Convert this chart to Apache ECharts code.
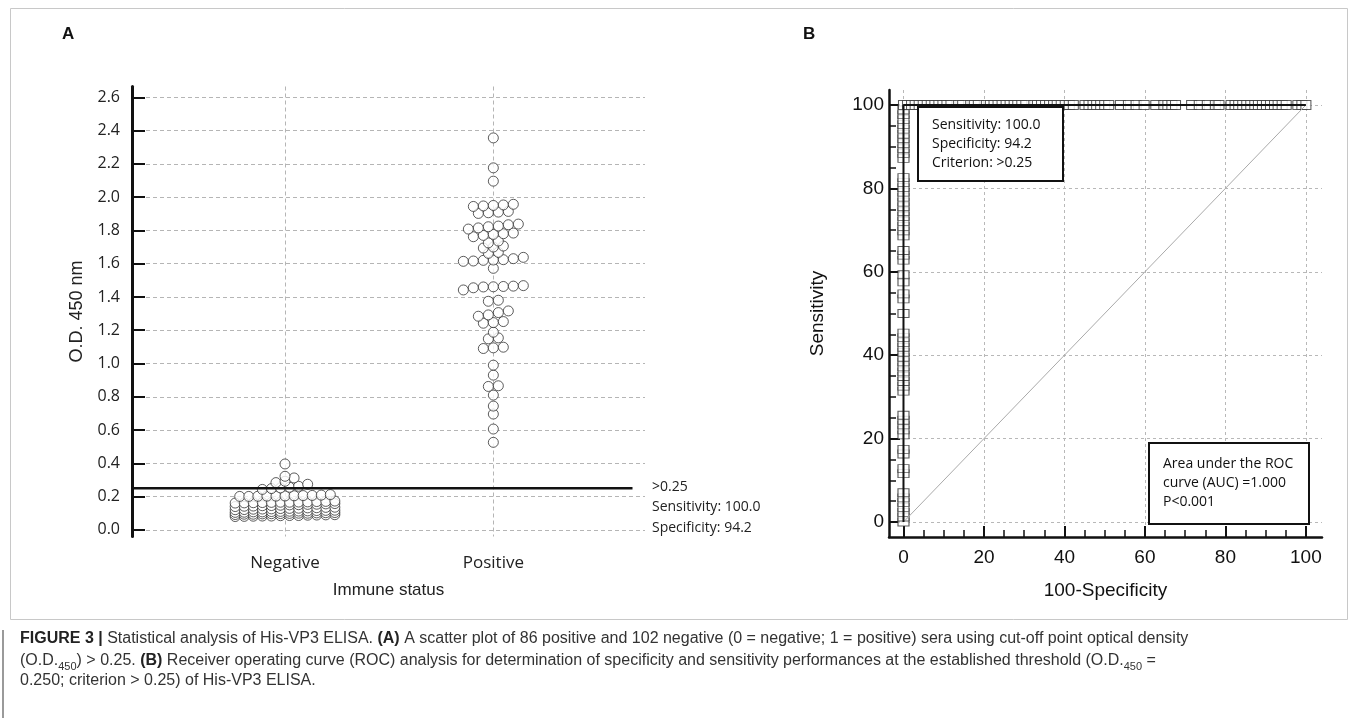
<!DOCTYPE html>
<html>
<head>
<meta charset="utf-8">
<title>Figure 3</title>
<script src="https://cdn.jsdelivr.net/npm/echarts@6/dist/echarts.min.js"></script>
<style>
  html, body { margin: 0; padding: 0; background: #fff; }
  #main { width: 1358px; height: 718px; }
</style>
</head>
<body>
<div id="main"></div>
<script>
// ---- data ----
var groups = ['Negative', 'Positive'];

// O.D.450 of negative sera
var negativeOD = [
  0.080, 0.081, 0.082, 0.083, 0.083, 0.085, 0.086, 0.086, 0.088, 0.089, 0.090, 0.091,
  0.092, 0.094, 0.094, 0.096, 0.097, 0.098, 0.099, 0.100, 0.100, 0.102, 0.103, 0.104,
  0.105, 0.106, 0.108, 0.108, 0.110, 0.111, 0.112, 0.113, 0.114, 0.116, 0.117, 0.118,
  0.121, 0.122, 0.124, 0.125, 0.126, 0.128, 0.129, 0.130, 0.132, 0.133, 0.135, 0.136,
  0.140, 0.142, 0.143, 0.145, 0.146, 0.148, 0.150, 0.151, 0.153, 0.154, 0.156, 0.158,
  0.161, 0.162, 0.163, 0.164, 0.165, 0.166, 0.166, 0.167, 0.168, 0.170, 0.171, 0.173,
  0.201, 0.201, 0.202, 0.203, 0.203, 0.204, 0.205, 0.206, 0.207, 0.209, 0.212,
  0.243, 0.248, 0.252, 0.256, 0.262, 0.274,
  0.284, 0.292, 0.312, 0.322, 0.396
];

// O.D.450 of positive sera
var positiveOD = [
  2.356, 2.176, 2.096,
  1.944, 1.947, 1.950, 1.953, 1.957,
  1.902, 1.906, 1.910, 1.914,
  1.808, 1.815, 1.822, 1.826, 1.834, 1.838,
  1.762, 1.770, 1.776, 1.780, 1.784,
  1.725, 1.736,
  1.694, 1.700, 1.706,
  1.662, 1.668,
  1.614, 1.616, 1.620, 1.622, 1.624, 1.630, 1.638,
  1.572,
  1.442, 1.455, 1.460, 1.461, 1.463, 1.465, 1.468,
  1.374, 1.380,
  1.284, 1.292, 1.306, 1.316,
  1.242, 1.246, 1.252,
  1.188,
  1.148, 1.154,
  1.090, 1.094, 1.098,
  0.990, 0.930, 0.862, 0.866, 0.810, 0.744, 0.696, 0.606, 0.526
];

var cutoff = 0.25;
var odTicks = [0, 0.2, 0.4, 0.6, 0.8, 1.0, 1.2, 1.4, 1.6, 1.8, 2.0, 2.2, 2.4, 2.6];

// ROC criterion points: sensitivity where 100-specificity = 0
var rocSensAtZero = [
  0, 1.2, 2.3, 3.5, 4.7, 5.8, 7.0,
  11.6, 12.8,
  16.3, 17.4,
  20.9, 22.1, 23.3, 24.4, 25.6,
  31.4, 32.6, 33.7, 34.9, 36.0, 37.2, 38.4, 39.5, 40.7, 41.9, 43.0, 44.2, 45.3,
  50.0, 53.5, 54.7, 57.6, 59.3,
  62.8, 64.0, 65.1,
  68.6, 69.8, 70.9, 72.1, 73.3, 74.4, 75.6, 76.7, 77.9, 79.1, 80.2, 81.4, 82.6,
  87.2, 88.4, 89.5, 90.7, 91.9, 93.0, 94.2, 95.3, 96.5, 97.7, 98.8
];
// ROC criterion points: 100-specificity where sensitivity = 100
var rocFprAtFull = [
  0, 1.0, 2.0, 2.9, 3.9, 4.9, 5.9, 6.9, 7.8, 8.8, 9.8, 10.8, 11.8, 13.7, 14.7,
  16.7, 17.6, 18.6, 20.6, 21.6, 22.5, 23.5, 24.5, 25.5, 26.5, 27.5, 28.4, 29.4,
  30.4, 32.4, 33.3, 34.3, 35.3, 36.3, 37.3, 38.2, 39.2, 40.2, 41.2, 42.2,
  45.1, 46.1, 47.1, 48.0, 49.0, 50.0, 51.0,
  53.9, 55.9, 57.8, 59.8, 62.7, 64.7, 65.7, 66.7, 67.6,
  71.6, 73.5, 75.5, 77.5, 78.4,
  81.4, 82.4, 83.3, 84.3, 85.3, 86.3, 87.3, 88.2, 89.2, 90.2, 91.2, 92.2, 93.1, 94.1, 95.1,
  98.0, 99.0, 100
];
var rocTicks = [0, 20, 40, 60, 80, 100];
var rocMinorTicks = [5, 10, 15, 25, 30, 35, 45, 50, 55, 65, 70, 75, 85, 90, 95];
var chanceLine = [0, 100];

// ---- dot plot layout: bin the values, lay each bin out in centred rows ----
function dotPlot(values, center, binW, perRow, step) {
  var bins = {};
  values.forEach(function (v) {
    var k = Math.floor(v / binW + 1e-9);
    (bins[k] = bins[k] || []).push(v);
  });
  var pts = [];
  Object.keys(bins).forEach(function (k) {
    var b = bins[k].slice().sort(function (a, c) { return a - c; });
    for (var s = 0; s < b.length; s += perRow) {
      var row = b.slice(s, s + perRow);
      row.forEach(function (v, i) {
        pts.push([center + (i - (row.length - 1) / 2) * step, v]);
      });
    }
  });
  return pts;
}

var negPts = dotPlot(negativeOD, 0, 0.04, 12, 0.0435);
var posPts = dotPlot(positiveOD, 1, 0.04, 12, 0.048);

var xMinA = -0.7345, xMaxA = 1.728;
var cutLineEnd = 1.668;

var colPts = rocSensAtZero.map(function (s) { return [0, s]; });
var rowPts = rocFprAtFull.map(function (f) { return [f, 100]; });
var rocCurve = colPts.concat(rowPts);

var sans = 'Liberation Sans';
var soft = 'Open Sans';

var myChart = echarts.init(document.getElementById('main'), null, { renderer: 'canvas' });

var circleStyle = { color: '#fff', borderColor: '#333', borderWidth: 1 };
var squareStyle = { color: '#fff', borderColor: '#333', borderWidth: 1 };

var option = {
  backgroundColor: '#fff',
  animation: false,
  grid: [
    { left: 132, top: 86.5, width: 513, height: 450 },
    { left: 889, top: 90, width: 433, height: 447 }
  ],
  xAxis: [
    {
      type: 'value', gridIndex: 0, min: xMinA, max: xMaxA,
      name: 'Immune status', nameLocation: 'middle', nameGap: 45,
      nameTextStyle: { fontFamily: sans, fontSize: 17, color: '#222' },
      axisLine: { show: false, onZero: false },
      axisTick: { show: false, customValues: [0, 1] },
      axisLabel: {
        customValues: [0, 1], margin: 18,
        fontFamily: soft, fontSize: 17, color: '#222',
        formatter: function (v) { return groups[Math.round(v)]; }
      },
      splitLine: { show: true, lineStyle: { color: '#b5b5b5', type: [4, 3], width: 1 } }
    },
    {
      type: 'value', gridIndex: 1, min: -3.6, max: 104,
      name: '100-Specificity', nameLocation: 'middle', nameGap: 44,
      nameTextStyle: { fontFamily: sans, fontSize: 19, color: '#111' },
      axisLine: { show: true, onZero: false, lineStyle: { color: '#111', width: 2.5 } },
      axisTick: { inside: true, length: 11, customValues: rocTicks, lineStyle: { color: '#111', width: 2 } },
      axisLabel: { customValues: rocTicks, margin: 11, fontFamily: sans, fontSize: 19, color: '#111' },
      splitLine: { show: true, lineStyle: { color: '#b8b8b8', type: [3, 3], width: 1 } }
    },
    {
      type: 'value', gridIndex: 1, min: -3.6, max: 104, position: 'bottom',
      axisLine: { show: false, onZero: false },
      axisTick: { inside: true, length: 7, customValues: rocMinorTicks, lineStyle: { color: '#111', width: 1.5 } },
      axisLabel: { show: false },
      splitLine: { show: false }
    }
  ],
  yAxis: [
    {
      type: 'value', gridIndex: 0, min: -0.04, max: 2.665,
      name: 'O.D. 450 nm', nameLocation: 'middle', nameGap: 46,
      nameTextStyle: { fontFamily: sans, fontSize: 18, color: '#222' },
      axisLine: { show: true, onZero: false, lineStyle: { color: '#111', width: 3 } },
      axisTick: { inside: true, length: 13, customValues: odTicks, lineStyle: { color: '#111', width: 2 } },
      axisLabel: {
        customValues: odTicks, margin: 12, fontFamily: soft, fontSize: 16, color: '#222',
        formatter: function (v) { return v.toFixed(1); }
      },
      splitLine: { show: true, lineStyle: { color: '#b5b5b5', type: [4, 3], width: 1 } }
    },
    {
      type: 'value', gridIndex: 1, min: -3.6, max: 103.6,
      name: 'Sensitivity', nameLocation: 'middle', nameGap: 62,
      nameTextStyle: { fontFamily: sans, fontSize: 19, color: '#111' },
      axisLine: { show: true, onZero: false, lineStyle: { color: '#111', width: 2.5 } },
      axisTick: { inside: true, length: 11, customValues: rocTicks, lineStyle: { color: '#111', width: 2 } },
      axisLabel: { customValues: rocTicks, margin: 5, fontFamily: sans, fontSize: 19, color: '#111' },
      splitLine: { show: true, lineStyle: { color: '#b8b8b8', type: [3, 3], width: 1 } }
    },
    {
      type: 'value', gridIndex: 1, min: -3.6, max: 103.6, position: 'left',
      axisLine: { show: false, onZero: false },
      axisTick: { inside: true, length: 7, customValues: rocMinorTicks, lineStyle: { color: '#111', width: 1.5 } },
      axisLabel: { show: false },
      splitLine: { show: false }
    }
  ],
  series: [
    {
      type: 'scatter', xAxisIndex: 0, yAxisIndex: 0, data: negPts,
      symbol: 'circle', symbolSize: 10, itemStyle: circleStyle
    },
    {
      type: 'scatter', xAxisIndex: 0, yAxisIndex: 0, data: posPts,
      symbol: 'circle', symbolSize: 10, itemStyle: circleStyle
    },
    {
      type: 'line', xAxisIndex: 0, yAxisIndex: 0,
      data: [[xMinA, cutoff], [cutLineEnd, cutoff]],
      symbol: 'none', lineStyle: { color: '#111', width: 2.5 }, z: 5
    },
    {
      type: 'line', xAxisIndex: 1, yAxisIndex: 1,
      data: [[chanceLine[0], chanceLine[0]], [chanceLine[1], chanceLine[1]]],
      symbol: 'none', lineStyle: { color: '#aaa', width: 1 }
    },
    {
      type: 'line', xAxisIndex: 1, yAxisIndex: 1, data: rocCurve,
      symbol: 'none', lineStyle: { color: '#111', width: 2 }
    },
    {
      type: 'scatter', xAxisIndex: 1, yAxisIndex: 1, data: colPts,
      symbol: 'rect', symbolSize: [11, 8], itemStyle: squareStyle
    },
    {
      type: 'scatter', xAxisIndex: 1, yAxisIndex: 1, data: rowPts,
      symbol: 'rect', symbolSize: [10, 9], itemStyle: squareStyle
    }
  ],
  graphic: [
    // figure frame and caption bar
    { type: 'rect', silent: true, z: 0, shape: { x: 10.5, y: 8.5, width: 1337, height: 611 },
      style: { fill: 'none', stroke: '#c8c8c8', lineWidth: 1 } },
    { type: 'rect', silent: true, shape: { x: 2, y: 630, width: 2, height: 88 },
      style: { fill: '#9a9a9a' } },
    // panel letters
    { type: 'text', left: 62, top: 26, style: { text: 'A', font: 'bold 17px "Liberation Sans"', fill: '#111' } },
    { type: 'text', left: 803, top: 26, style: { text: 'B', font: 'bold 17px "Liberation Sans"', fill: '#111' } },
    // panel A cut-off annotation
    { type: 'text', left: 652, top: 480, style: { text: '>0.25', font: '14px "Open Sans"', fill: '#222' } },
    { type: 'text', left: 652, top: 500, style: { text: 'Sensitivity: 100.0', font: '14px "Open Sans"', fill: '#222' } },
    { type: 'text', left: 652, top: 521, style: { text: 'Specificity: 94.2', font: '14px "Open Sans"', fill: '#222' } },
    // panel B boxes
    { type: 'rect', z: 100, shape: { x: 918, y: 107, width: 145, height: 74 },
      style: { fill: '#fff', stroke: '#111', lineWidth: 2 } },
    { type: 'text', z: 101, left: 932, top: 116,
      style: { text: 'Sensitivity: 100.0\nSpecificity: 94.2\nCriterion: >0.25', font: '14px "Open Sans"', lineHeight: 19, fill: '#111' } },
    { type: 'rect', z: 100, shape: { x: 1149, y: 443, width: 160, height: 81 },
      style: { fill: '#fff', stroke: '#111', lineWidth: 2 } },
    { type: 'text', z: 101, left: 1163, top: 455,
      style: { text: 'Area under the ROC\ncurve (AUC) =1.000\nP<0.001', font: '14px "Open Sans"', lineHeight: 19, fill: '#111' } },
    // caption
    { type: 'text', left: 20, top: 631, style: {
      text: '{b|FIGURE 3 |} Statistical analysis of His-VP3 ELISA. {b|(A)} A scatter plot of 86 positive and 102 negative (0 = negative; 1 = positive) sera using cut-off point optical density',
      font: '16px "Liberation Sans"', fill: '#333',
      rich: { b: { fontFamily: 'Liberation Sans', fontSize: 16, fontWeight: 'bold', fill: '#222' } } } },
    { type: 'text', left: 20, top: 650, style: {
      text: '(O.D.{s|450}) > 0.25. {b|(B)} Receiver operating curve (ROC) analysis for determination of specificity and sensitivity performances at the established threshold (O.D.{s|450} =',
      font: '16px "Liberation Sans"', fill: '#333', lineHeight: 22,
      rich: {
        b: { fontFamily: 'Liberation Sans', fontSize: 16, fontWeight: 'bold', fill: '#222', lineHeight: 22 },
        s: { fontFamily: 'Liberation Sans', fontSize: 11, fill: '#333', verticalAlign: 'bottom', lineHeight: 13 }
      } } },
    { type: 'text', left: 20, top: 673, style: {
      text: '0.250; criterion > 0.25) of His-VP3 ELISA.',
      font: '16px "Liberation Sans"', fill: '#333' } }
  ]
};

myChart.setOption(option);
</script>
</body>
</html>
